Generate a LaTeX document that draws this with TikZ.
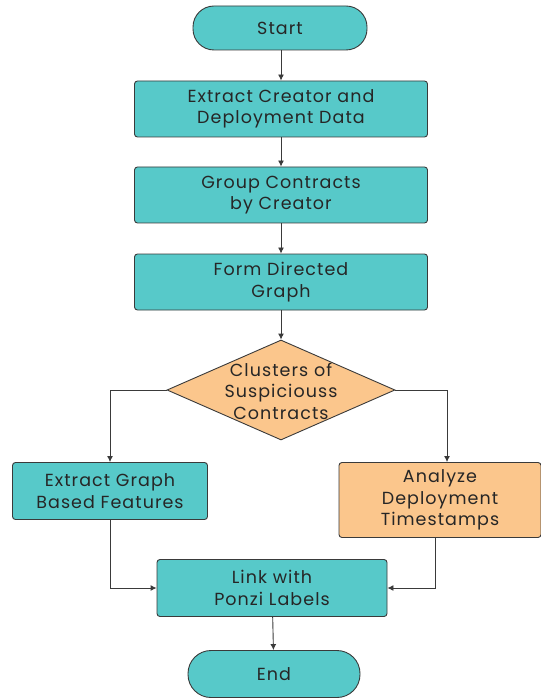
\documentclass[tikz,border=0pt]{standalone}
\usepackage{fontspec}
\setmainfont{Poppins}[LetterSpace=6]
\usetikzlibrary{shapes.geometric,arrows.meta,positioning}
\definecolor{tealfill}{HTML}{57C9C9}
\definecolor{orangefill}{HTML}{FBC68C}
\definecolor{edgegray}{HTML}{3A3A3A}
\tikzset{
  x=1pt, y=-1pt,
  every node/.style={font=\fontsize{17.5}{21.5}\selectfont, text=black!85, align=center},
  procbox/.style={draw=edgegray, line width=0.9pt, fill=tealfill, rounded corners=3pt, inner sep=0pt},
  warmbox/.style={procbox, fill=orangefill},
  terminal/.style={draw=edgegray, line width=0.9pt, fill=tealfill, rounded corners=21pt, inner sep=0pt},
  decision/.style={draw=edgegray, line width=0.9pt, fill=orangefill, diamond, aspect=2.28, inner sep=0pt},
  flow/.style={draw=edgegray, line width=0.9pt, -{Latex[length=6pt,width=6pt]}}
}
\begin{document}
\begin{tikzpicture}
\useasboundingbox (0,0) rectangle (540,700);
\node[terminal, minimum width=174pt, minimum height=44pt] (start) at (280,28) {Start};
\node[procbox, minimum width=293pt, minimum height=56pt] (extract) at (281,109) {Extract Creator and\\Deployment Data};
\node[procbox, minimum width=293pt, minimum height=56pt] (group) at (281,195) {Group Contracts\\by Creator};
\node[procbox, minimum width=293pt, minimum height=56pt] (graph) at (281,282) {Form Directed\\Graph};
\node[decision, minimum width=228pt, minimum height=100pt] (clusters) at (281,390) {};
\node at (281,391) {Clusters of\\Suspiciouss\\Contracts};
\node[procbox, minimum width=195pt, minimum height=57pt] (features) at (110,491) {Extract Graph\\Based Features};
\node[warmbox, minimum width=202pt, minimum height=75pt] (timestamps) at (440,500) {Analyze\\Deployment\\Timestamps};
\node[procbox, minimum width=230pt, minimum height=57pt] (ponzi) at (272,588) {Link with\\Ponzi Labels};
\node[terminal, minimum width=172pt, minimum height=47pt, rounded corners=23pt] (stop) at (274,674) {End};

\draw[flow] (start.south -| extract) -- (extract.north);
\draw[flow] (extract) -- (group);
\draw[flow] (group) -- (graph);
\draw[flow] (graph) -- (clusters.north);
\draw[flow] (clusters.west) -| (features.north);
\draw[flow] (clusters.east) -| ([xshift=7pt]timestamps.north);
\draw[flow] (features.south) |- (ponzi.west);
\draw[flow] ([xshift=-5pt]timestamps.south) |- (ponzi.east);
\draw[flow] (ponzi) -- (stop);
\end{tikzpicture}
\end{document}
